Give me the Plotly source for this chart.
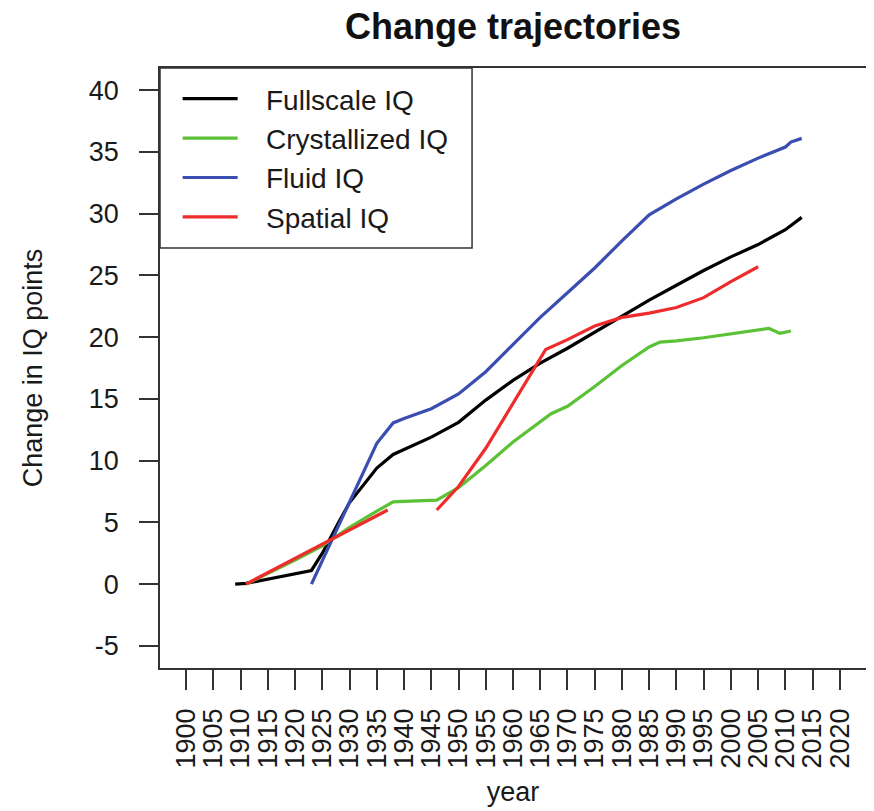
import plotly.graph_objects as go

# ---- data ----
full_years = [1909, 1911, 1923, 1925, 1928, 1930, 1935, 1938, 1940, 1945, 1950, 1955, 1960,
              1965, 1970, 1975, 1980, 1985, 1990, 1995, 2000, 2005, 2010, 2013]
full_vals = [0.0, 0.05, 1.1, 2.5, 5.0, 6.6, 9.4, 10.5, 10.9, 11.9, 13.1, 14.9, 16.5,
             17.9, 19.1, 20.4, 21.7, 23.0, 24.2, 25.4, 26.5, 27.5, 28.7, 29.7]

cryst_years = [1911, 1915, 1920, 1925, 1930, 1935, 1938, 1940, 1946, 1950, 1955, 1960, 1965,
               1967, 1970, 1975, 1980, 1985, 1987, 1990, 1995, 2000, 2005, 2007, 2009, 2011]
cryst_vals = [0.0, 0.85, 1.95, 3.1, 4.6, 5.9, 6.65, 6.7, 6.8, 7.8, 9.6, 11.5, 13.1,
              13.8, 14.4, 16.0, 17.7, 19.2, 19.6, 19.7, 19.95, 20.25, 20.55, 20.7, 20.3, 20.5]

fluid_years = [1923, 1925, 1930, 1935, 1938, 1940, 1945, 1950, 1955, 1960, 1965, 1970,
               1975, 1980, 1985, 1990, 1995, 2000, 2005, 2010, 2011, 2013]
fluid_vals = [0.0, 1.9, 6.5, 11.4, 13.05, 13.4, 14.2, 15.4, 17.2, 19.4, 21.6, 23.6,
              25.6, 27.8, 29.9, 31.2, 32.4, 33.5, 34.5, 35.4, 35.8, 36.1]

spatial_years = [1911, 1937, 1941, 1946, 1950, 1955, 1960, 1966, 1970, 1975, 1980,
                 1985, 1990, 1995, 2000, 2005]
spatial_vals = [0.0, 6.0, None, 6.0, 7.9, 11.0, 14.6, 19.0, 19.8, 20.9, 21.6,
                21.95, 22.4, 23.2, 24.5, 25.7]

x_ticks = list(range(1900, 2021, 5))
y_ticks = list(range(-5, 41, 5))

series = [
    ("Fullscale IQ", full_years, full_vals, "#000000"),
    ("Crystallized IQ", cryst_years, cryst_vals, "#5BC236"),
    ("Fluid IQ", fluid_years, fluid_vals, "#3A4DB0"),
    ("Spatial IQ", spatial_years, spatial_vals, "#EE2C2C"),
]

FONT = "Liberation Sans, Arial, Helvetica, sans-serif"
NB = "\u00a0"

fig = go.Figure()
for name, xs, ys, col in series:
    fig.add_trace(go.Scatter(x=xs, y=ys, mode="lines", name=NB * 3 + name,
                             line=dict(color=col, width=3.2), connectgaps=False))

axis_common = dict(showgrid=False, zeroline=False, showline=True, linecolor="#333333",
                   linewidth=1.5, mirror=True, ticks="outside", tickwidth=1.5,
                   tickcolor="#333333", tickfont=dict(size=27, color="#1a1a1a", family=FONT))

fig.update_xaxes(range=[1895.2, 2024.8], tickmode="array", tickvals=x_ticks,
                 ticktext=[str(v) for v in x_ticks], tickangle=-90, ticklen=20,
                 ticklabelstandoff=8,
                 title=dict(text="year", font=dict(size=27, color="#1a1a1a", family=FONT), standoff=14),
                 **axis_common)
fig.update_yaxes(range=[-6.8, 41.8], tickmode="array", tickvals=y_ticks,
                 ticktext=[str(v) + NB * 2 for v in y_ticks], ticklen=19,
                 title=dict(text="Change in IQ points", font=dict(size=27, color="#1a1a1a", family=FONT), standoff=38),
                 **axis_common)

# legend box (R-style, anchored at the top-left corner of the plot region)
fig.add_shape(type="rect", xref="paper", yref="paper", x0=0, x1=0.442, y0=0.70, y1=1,
              line=dict(color="#333333", width=1.5), fillcolor="white", layer="below")

# the page body adds an 8px margin, so the figure is 8px smaller and margins shifted
fig.update_layout(
    width=866, height=803,
    margin=dict(l=152, r=8, t=60, b=143, autoexpand=False),
    paper_bgcolor="white", plot_bgcolor="white",
    font=dict(family=FONT, color="#1a1a1a"),
    title=dict(text="<b>Change trajectories</b>", x=0.5, xref="paper", xanchor="center",
               y=1 - 18 / 803, yref="container", yanchor="middle",
               font=dict(size=36, family=FONT, color="#111111")),
    showlegend=True,
    legend=dict(x=0.025, y=0.99, xanchor="left", yanchor="top", bgcolor="rgba(0,0,0,0)",
                borderwidth=0, font=dict(size=28, family=FONT, color="#1a1a1a"),
                itemwidth=55, tracegroupgap=0),
)

fig.write_html("out.html")
